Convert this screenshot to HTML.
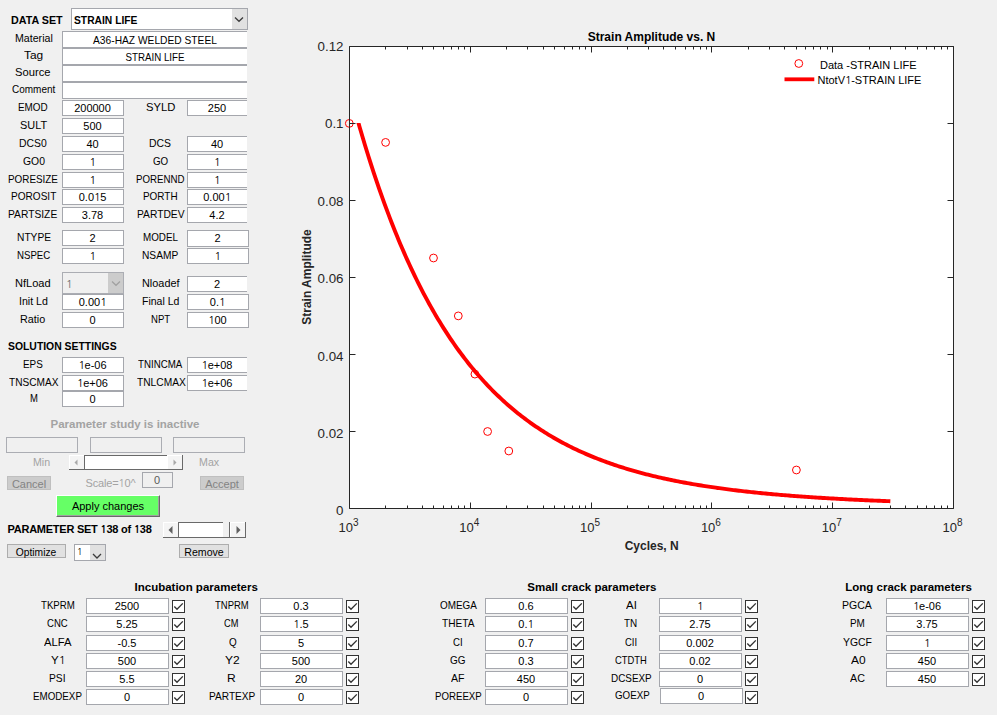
<!DOCTYPE html><html><head><meta charset="utf-8"><style>
html,body{margin:0;padding:0}
body{width:997px;height:715px;background:#f0f0f0;position:relative;overflow:hidden;font-family:"Liberation Sans",Arial,sans-serif}
.t{position:absolute;line-height:20px;height:20px;white-space:nowrap;font-family:"Liberation Sans",Arial,sans-serif}
.b{position:absolute;box-sizing:border-box;border:1px solid #a5a7ad;background:#fff}
.cb{position:absolute;width:13px;height:13px;box-sizing:border-box;border:1px solid #333;background:#fff}
.cb svg{position:absolute;left:-1px;top:-1px}
.btn{position:absolute;box-sizing:border-box}
.one{font-family:"NanumGothic","Liberation Sans",sans-serif;letter-spacing:-0.55px;line-height:0}
</style></head><body>
<div class="t" style="left:10.5px;top:10px;width:400px;text-align:left;font-size:11px;font-weight:bold;color:#000;transform:scaleX(0.975);transform-origin:0 0;">DATA SET</div>
<div class="b" style="left:71px;top:8px;width:177px;height:22px;background:#fff"></div>
<div style="position:absolute;left:232px;top:9px;width:15px;height:20px;background:#e1e1e1"></div>
<svg style="position:absolute;left:234px;top:16px" width="10" height="7"><path d="M1 1.5 L5 5.3 L9 1.5" fill="none" stroke="#3c3c3c" stroke-width="1.3"/></svg>
<div class="t" style="left:74.0px;top:10px;width:400px;text-align:left;font-size:11px;font-weight:bold;color:#000;transform:scaleX(0.935);transform-origin:0 0;">STRAIN LIFE</div>
<div class="t" style="left:14.5px;top:28px;width:400px;text-align:left;font-size:11px;color:#000;transform:scaleX(0.9658);transform-origin:0 0;">Material</div>
<div class="b" style="left:62px;top:31px;width:185px;height:17px;background:#fff;border-color:#a5a7ad;border-right:none;"></div>
<div class="t" style="left:-45.5px;top:30px;width:400px;text-align:center;font-size:11px;color:#000;transform:scaleX(0.93);transform-origin:50% 0;">A36-HAZ WELDED STEEL</div>
<div class="t" style="left:24.1px;top:45px;width:400px;text-align:left;font-size:11px;color:#000;transform:scaleX(1.0824);transform-origin:0 0;">Tag</div>
<div class="b" style="left:62px;top:48px;width:185px;height:17px;background:#fff;border-color:#a5a7ad;border-right:none;"></div>
<div class="t" style="left:-45.5px;top:47px;width:400px;text-align:center;font-size:11px;color:#000;transform:scaleX(0.885);transform-origin:50% 0;">STRAIN LIFE</div>
<div class="t" style="left:15.3px;top:62px;width:400px;text-align:left;font-size:11px;color:#000;transform:scaleX(1.0176);transform-origin:0 0;">Source</div>
<div class="b" style="left:62px;top:65px;width:185px;height:17px;background:#fff;border-color:#a5a7ad;border-right:none;"></div>
<div class="t" style="left:11.5px;top:79px;width:400px;text-align:left;font-size:11px;color:#000;transform:scaleX(0.9083);transform-origin:0 0;">Comment</div>
<div class="b" style="left:62px;top:82px;width:185px;height:17px;background:#fff;border-color:#a5a7ad;border-right:none;"></div>
<div class="t" style="left:18.3px;top:97px;width:400px;text-align:left;font-size:11px;color:#000;transform:scaleX(0.9);transform-origin:0 0;">EMOD</div>
<div class="b" style="left:62px;top:100px;width:62px;height:16px;background:#fff;border-color:#a5a7ad;"></div>
<div class="t" style="left:-107.5px;top:98px;width:400px;text-align:center;font-size:11px;color:#000;">200000</div>
<div class="t" style="left:146.2px;top:97px;width:400px;text-align:left;font-size:11px;color:#000;transform:scaleX(1.0222);transform-origin:0 0;">SYLD</div>
<div class="b" style="left:187px;top:100px;width:60px;height:16px;background:#fff;border-color:#a5a7ad;border-right:none;"></div>
<div class="t" style="left:17.0px;top:98px;width:400px;text-align:center;font-size:11px;color:#000;">250</div>
<div class="t" style="left:20.3px;top:115px;width:400px;text-align:left;font-size:11px;color:#000;transform:scaleX(0.9923);transform-origin:0 0;">SULT</div>
<div class="b" style="left:62px;top:118px;width:62px;height:16px;background:#fff;border-color:#a5a7ad;"></div>
<div class="t" style="left:-107.5px;top:116px;width:400px;text-align:center;font-size:11px;color:#000;">500</div>
<div class="t" style="left:19.2px;top:133px;width:400px;text-align:left;font-size:11px;color:#000;transform:scaleX(0.9429);transform-origin:0 0;">DCS0</div>
<div class="b" style="left:62px;top:136px;width:62px;height:16px;background:#fff;border-color:#a5a7ad;"></div>
<div class="t" style="left:-107.5px;top:134px;width:400px;text-align:center;font-size:11px;color:#000;">40</div>
<div class="t" style="left:149.2px;top:133px;width:400px;text-align:left;font-size:11px;color:#000;transform:scaleX(0.9455);transform-origin:0 0;">DCS</div>
<div class="b" style="left:187px;top:136px;width:60px;height:16px;background:#fff;border-color:#a5a7ad;border-right:none;"></div>
<div class="t" style="left:17.0px;top:134px;width:400px;text-align:center;font-size:11px;color:#000;">40</div>
<div class="t" style="left:23.1px;top:151px;width:400px;text-align:left;font-size:11px;color:#000;transform:scaleX(0.9435);transform-origin:0 0;">GO0</div>
<div class="b" style="left:62px;top:154px;width:62px;height:16px;background:#fff;border-color:#a5a7ad;"></div>
<div class="t" style="left:-107.5px;top:152px;width:400px;text-align:center;font-size:11px;color:#000;"><span class="one">1</span></div>
<div class="t" style="left:153.1px;top:151px;width:400px;text-align:left;font-size:11px;color:#000;transform:scaleX(0.8882);transform-origin:0 0;">GO</div>
<div class="b" style="left:187px;top:154px;width:60px;height:16px;background:#fff;border-color:#a5a7ad;border-right:none;"></div>
<div class="t" style="left:17.0px;top:152px;width:400px;text-align:center;font-size:11px;color:#000;"><span class="one">1</span></div>
<div class="t" style="left:8.3px;top:169px;width:400px;text-align:left;font-size:11px;color:#000;transform:scaleX(0.8981);transform-origin:0 0;">PORESIZE</div>
<div class="b" style="left:62px;top:172px;width:62px;height:16px;background:#fff;border-color:#a5a7ad;"></div>
<div class="t" style="left:-107.5px;top:170px;width:400px;text-align:center;font-size:11px;color:#000;"><span class="one">1</span></div>
<div class="t" style="left:136.2px;top:169px;width:400px;text-align:left;font-size:11px;color:#000;transform:scaleX(0.8815);transform-origin:0 0;">PORENND</div>
<div class="b" style="left:187px;top:172px;width:60px;height:16px;background:#fff;border-color:#a5a7ad;border-right:none;"></div>
<div class="t" style="left:17.0px;top:170px;width:400px;text-align:center;font-size:11px;color:#000;"><span class="one">1</span></div>
<div class="t" style="left:11.2px;top:186px;width:400px;text-align:left;font-size:11px;color:#000;transform:scaleX(0.9146);transform-origin:0 0;">POROSIT</div>
<div class="b" style="left:62px;top:189px;width:62px;height:16px;background:#fff;border-color:#a5a7ad;"></div>
<div class="t" style="left:-107.5px;top:187px;width:400px;text-align:center;font-size:11px;color:#000;">0.0<span class="one">1</span>5</div>
<div class="t" style="left:143.3px;top:186px;width:400px;text-align:left;font-size:11px;color:#000;transform:scaleX(0.9027);transform-origin:0 0;">PORTH</div>
<div class="b" style="left:187px;top:189px;width:60px;height:16px;background:#fff;border-color:#a5a7ad;border-right:none;"></div>
<div class="t" style="left:17.0px;top:187px;width:400px;text-align:center;font-size:11px;color:#000;">0.00<span class="one">1</span></div>
<div class="t" style="left:8.3px;top:204px;width:400px;text-align:left;font-size:11px;color:#000;transform:scaleX(0.9327);transform-origin:0 0;">PARTSIZE</div>
<div class="b" style="left:62px;top:207px;width:62px;height:16px;background:#fff;border-color:#a5a7ad;"></div>
<div class="t" style="left:-107.5px;top:205px;width:400px;text-align:center;font-size:11px;color:#000;">3.78</div>
<div class="t" style="left:136.6px;top:204px;width:400px;text-align:left;font-size:11px;color:#000;transform:scaleX(0.934);transform-origin:0 0;">PARTDEV</div>
<div class="b" style="left:187px;top:207px;width:60px;height:16px;background:#fff;border-color:#a5a7ad;border-right:none;"></div>
<div class="t" style="left:17.0px;top:205px;width:400px;text-align:center;font-size:11px;color:#000;">4.2</div>
<div class="t" style="left:16.5px;top:227px;width:400px;text-align:left;font-size:11px;color:#000;transform:scaleX(0.9286);transform-origin:0 0;">NTYPE</div>
<div class="b" style="left:62px;top:230px;width:62px;height:16px;background:#fff;border-color:#a5a7ad;"></div>
<div class="t" style="left:-107.5px;top:228px;width:400px;text-align:center;font-size:11px;color:#000;">2</div>
<div class="t" style="left:142.7px;top:227px;width:400px;text-align:left;font-size:11px;color:#000;transform:scaleX(0.8921);transform-origin:0 0;">MODEL</div>
<div class="b" style="left:187px;top:230px;width:62px;height:17px;background:#fff;border-color:#a5a7ad;"></div>
<div class="t" style="left:17.5px;top:228px;width:400px;text-align:center;font-size:11px;color:#000;">2</div>
<div class="t" style="left:16.5px;top:245px;width:400px;text-align:left;font-size:11px;color:#000;transform:scaleX(0.8784);transform-origin:0 0;">NSPEC</div>
<div class="b" style="left:62px;top:248px;width:62px;height:16px;background:#fff;border-color:#a5a7ad;"></div>
<div class="t" style="left:-107.5px;top:246px;width:400px;text-align:center;font-size:11px;color:#000;"><span class="one">1</span></div>
<div class="t" style="left:141.7px;top:245px;width:400px;text-align:left;font-size:11px;color:#000;transform:scaleX(0.9263);transform-origin:0 0;">NSAMP</div>
<div class="b" style="left:187px;top:248px;width:62px;height:16px;background:#fff;border-color:#a5a7ad;"></div>
<div class="t" style="left:17.5px;top:246px;width:400px;text-align:center;font-size:11px;color:#000;"><span class="one">1</span></div>
<div class="t" style="left:19.4px;top:291px;width:400px;text-align:left;font-size:11px;color:#000;transform:scaleX(0.9643);transform-origin:0 0;">Init Ld</div>
<div class="b" style="left:62px;top:294px;width:62px;height:16px;background:#fff;border-color:#a5a7ad;"></div>
<div class="t" style="left:-107.5px;top:292px;width:400px;text-align:center;font-size:11px;color:#000;">0.00<span class="one">1</span></div>
<div class="t" style="left:141.6px;top:291px;width:400px;text-align:left;font-size:11px;color:#000;transform:scaleX(0.9553);transform-origin:0 0;">Final Ld</div>
<div class="b" style="left:187px;top:294px;width:62px;height:16px;background:#fff;border-color:#a5a7ad;"></div>
<div class="t" style="left:17.5px;top:292px;width:400px;text-align:center;font-size:11px;color:#000;">0.<span class="one">1</span></div>
<div class="t" style="left:20.4px;top:309px;width:400px;text-align:left;font-size:11px;color:#000;transform:scaleX(0.9792);transform-origin:0 0;">Ratio</div>
<div class="b" style="left:62px;top:312px;width:62px;height:16px;background:#fff;border-color:#a5a7ad;"></div>
<div class="t" style="left:-107.5px;top:310px;width:400px;text-align:center;font-size:11px;color:#000;">0</div>
<div class="t" style="left:150.5px;top:309px;width:400px;text-align:left;font-size:11px;color:#000;transform:scaleX(0.8714);transform-origin:0 0;">NPT</div>
<div class="b" style="left:187px;top:312px;width:62px;height:16px;background:#fff;border-color:#a5a7ad;"></div>
<div class="t" style="left:17.5px;top:310px;width:400px;text-align:center;font-size:11px;color:#000;"><span class="one">1</span>00</div>
<div class="t" style="left:15.4px;top:273px;width:400px;text-align:left;font-size:11px;color:#000;transform:scaleX(1.0059);transform-origin:0 0;">NfLoad</div>
<div class="b" style="left:62px;top:272px;width:62px;height:22px;background:#f0f0f0;border-color:#abadb3"></div>
<div style="position:absolute;left:108px;top:273px;width:15px;height:20px;background:#cccccc"></div>
<svg style="position:absolute;left:111px;top:280px" width="10" height="7"><path d="M1 1.5 L5 5.3 L9 1.5" fill="none" stroke="#a0a0a0" stroke-width="1.2"/></svg>
<div class="t" style="left:66.0px;top:274px;width:400px;text-align:left;font-size:11px;color:#6d6d6d;"><span class="one">1</span></div>
<div class="t" style="left:141.6px;top:273px;width:400px;text-align:left;font-size:11px;color:#000;transform:scaleX(0.9892);transform-origin:0 0;">Nloadef</div>
<div class="b" style="left:187px;top:276px;width:60px;height:16px;background:#fff;border-color:#a5a7ad;border-right:none;"></div>
<div class="t" style="left:17.0px;top:274px;width:400px;text-align:center;font-size:11px;color:#000;">2</div>
<div class="t" style="left:8.0px;top:336px;width:400px;text-align:left;font-size:11px;font-weight:bold;color:#000;transform:scaleX(0.945);transform-origin:0 0;">SOLUTION SETTINGS</div>
<div class="t" style="left:23.2px;top:354px;width:400px;text-align:left;font-size:11px;color:#000;transform:scaleX(0.9);transform-origin:0 0;">EPS</div>
<div class="b" style="left:62px;top:357px;width:62px;height:16px;background:#fff;border-color:#a5a7ad;"></div>
<div class="t" style="left:-107.5px;top:355px;width:400px;text-align:center;font-size:11px;color:#000;"><span class="one">1</span>e-06</div>
<div class="t" style="left:138.3px;top:354px;width:400px;text-align:left;font-size:11px;color:#000;transform:scaleX(0.884);transform-origin:0 0;">TNINCMA</div>
<div class="b" style="left:187px;top:357px;width:60px;height:16px;background:#fff;border-color:#a5a7ad;border-right:none;"></div>
<div class="t" style="left:17.0px;top:355px;width:400px;text-align:center;font-size:11px;color:#000;"><span class="one">1</span>e+08</div>
<div class="t" style="left:9.2px;top:372px;width:400px;text-align:left;font-size:11px;color:#000;transform:scaleX(0.9185);transform-origin:0 0;">TNSCMAX</div>
<div class="b" style="left:62px;top:375px;width:62px;height:16px;background:#fff;border-color:#a5a7ad;"></div>
<div class="t" style="left:-107.5px;top:373px;width:400px;text-align:center;font-size:11px;color:#000;"><span class="one">1</span>e+06</div>
<div class="t" style="left:136.6px;top:372px;width:400px;text-align:left;font-size:11px;color:#000;transform:scaleX(0.9288);transform-origin:0 0;">TNLCMAX</div>
<div class="b" style="left:187px;top:375px;width:60px;height:16px;background:#fff;border-color:#a5a7ad;border-right:none;"></div>
<div class="t" style="left:17.0px;top:373px;width:400px;text-align:center;font-size:11px;color:#000;"><span class="one">1</span>e+06</div>
<div class="t" style="left:29.5px;top:388px;width:400px;text-align:left;font-size:11px;color:#000;transform:scaleX(0.8625);transform-origin:0 0;">M</div>
<div class="b" style="left:62px;top:391px;width:62px;height:16px;background:#fff;border-color:#a5a7ad;"></div>
<div class="t" style="left:-107.5px;top:389px;width:400px;text-align:center;font-size:11px;color:#000;">0</div>
<div class="t" style="left:-75.0px;top:414px;width:400px;text-align:center;font-size:11.5px;font-weight:bold;color:#a3a3a3;">Parameter study is inactive</div>
<div class="b" style="left:6px;top:437px;width:72px;height:16px;background:#f0f0f0;border-color:#abadb3;"></div>
<div class="b" style="left:90px;top:437px;width:72px;height:16px;background:#f0f0f0;border-color:#abadb3;"></div>
<div class="b" style="left:173px;top:437px;width:72px;height:16px;background:#f0f0f0;border-color:#abadb3;"></div>
<div class="t" style="left:33.1px;top:452px;width:400px;text-align:left;font-size:11px;color:#a3a3a3;transform:scaleX(0.9625);transform-origin:0 0;">Min</div>
<div class="t" style="left:198.6px;top:452px;width:400px;text-align:left;font-size:11px;color:#a3a3a3;transform:scaleX(0.97);transform-origin:0 0;">Max</div>
<div style="position:absolute;left:69px;top:455px;width:114px;height:15px;background:#f0f0f0"></div>
<div style="position:absolute;left:69px;top:455px;width:15px;height:14px;background:#f4f4f4;border-top:1px solid #fff;border-left:1px solid #fff;box-sizing:border-box"></div>
<div style="position:absolute;left:167px;top:455px;width:15px;height:14px;background:#f4f4f4;border-top:1px solid #fff;border-left:1px solid #fff;box-sizing:border-box"></div>
<svg style="position:absolute;left:69px;top:455px" width="15" height="15"><path d="M5.5 7.5 L8.5 4.5 L8.5 10.5 Z" fill="#a8a8a8"/></svg>
<svg style="position:absolute;left:167px;top:455px" width="15" height="15"><path d="M9.5 7.5 L6.5 4.5 L6.5 10.5 Z" fill="#a8a8a8"/></svg>
<div style="position:absolute;left:84px;top:455px;width:83px;height:14px;background:#fff;border-top:1px solid #696969;border-left:1px solid #696969;box-sizing:border-box"></div>
<div style="position:absolute;left:69px;top:469px;width:114px;height:1px;background:#696969"></div>
<div style="position:absolute;left:182px;top:455px;width:1px;height:15px;background:#696969"></div>
<div class="btn" style="left:7px;top:476px;width:44px;height:14px;background:#cccccc;border:1px solid #bfbfbf;overflow:hidden"><div class="t" style="left:0;top:-3px;width:100%;text-align:center;font-size:11px;color:#838383;letter-spacing:0px">Cancel</div></div>
<div class="btn" style="left:200px;top:476px;width:44px;height:14px;background:#cccccc;border:1px solid #bfbfbf;overflow:hidden"><div class="t" style="left:0;top:-3px;width:100%;text-align:center;font-size:11px;color:#838383;letter-spacing:0px">Accept</div></div>
<div class="t" style="left:-89.5px;top:473px;width:400px;text-align:center;font-size:11px;color:#a3a3a3;letter-spacing:-0.2px;">Scale=<span class="one">1</span>0^</div>
<div class="b" style="left:142px;top:472px;width:31px;height:16px;background:#f0f0f0;border-color:#a5a7ad;"></div>
<div class="t" style="left:-43.0px;top:470px;width:400px;text-align:center;font-size:11px;color:#5a5a5a;">0</div>
<div class="btn" style="left:56px;top:495px;width:104px;height:22px;background:#66ff66;border-top:1px solid #fff;border-left:1px solid #fff;border-right:1px solid #696969;border-bottom:1px solid #696969;box-shadow:inset -1px -1px 0 #a0a0a0"></div>
<div class="t" style="left:-92.0px;top:496px;width:400px;text-align:center;font-size:11px;color:#000;">Apply changes</div>
<div class="t" style="left:7.5px;top:519px;width:400px;text-align:left;font-size:11px;font-weight:bold;color:#000;letter-spacing:-0.25px;">PARAMETER SET <span class="one">1</span>38 of <span class="one">1</span>38</div>
<div style="position:absolute;left:163px;top:522px;width:83px;height:16px;background:#f0f0f0"></div>
<div style="position:absolute;left:163px;top:522px;width:15px;height:15px;background:#f4f4f4;border-top:1px solid #fff;border-left:1px solid #fff;box-sizing:border-box"></div>
<div style="position:absolute;left:230px;top:522px;width:15px;height:15px;background:#f4f4f4;border-top:1px solid #fff;border-left:1px solid #fff;box-sizing:border-box"></div>
<svg style="position:absolute;left:163px;top:522px" width="15" height="16"><path d="M5.5 8.0 L9.5 4.0 L9.5 12.0 Z" fill="#606060"/></svg>
<svg style="position:absolute;left:230px;top:522px" width="15" height="16"><path d="M10.5 8.0 L6.5 4.0 L6.5 12.0 Z" fill="#606060"/></svg>
<div style="position:absolute;left:178px;top:522px;width:45px;height:15px;background:#fff;border-top:1px solid #696969;border-left:1px solid #696969;box-sizing:border-box"></div>
<div style="position:absolute;left:223px;top:522px;width:7px;height:15px;background:#f0f0f0;border-right:1px solid #696969;box-sizing:border-box"></div>
<div style="position:absolute;left:163px;top:537px;width:83px;height:1px;background:#696969"></div>
<div style="position:absolute;left:245px;top:522px;width:1px;height:16px;background:#696969"></div>
<div class="btn" style="left:7px;top:544px;width:59px;height:14px;background:#e1e1e1;border:1px solid #adadad"></div>
<div class="t" style="left:-163.7px;top:542px;width:400px;text-align:center;font-size:11px;color:#000;transform:scaleX(0.935);transform-origin:50% 0;">Optimize</div>
<div class="btn" style="left:179px;top:544px;width:50px;height:14px;background:#e1e1e1;border:1px solid #adadad"></div>
<div class="t" style="left:4.4px;top:542px;width:400px;text-align:center;font-size:11px;color:#000;transform:scaleX(0.965);transform-origin:50% 0;">Remove</div>
<div class="b" style="left:74px;top:544px;width:32px;height:17px;background:#fff;border-color:#a5a7ad"></div>
<div style="position:absolute;left:90px;top:545px;width:15px;height:15px;background:#e1e1e1"></div>
<svg style="position:absolute;left:92px;top:552px" width="12" height="8"><path d="M1 2 L5 6 L9 2" fill="none" stroke="#3c3c3c" stroke-width="1.3"/></svg>
<div class="t" style="left:77.0px;top:542px;width:400px;text-align:left;font-size:9px;color:#000;"><span class="one">1</span></div>
<div class="t" style="left:-3.8px;top:577px;width:400px;text-align:center;font-size:11.5px;font-weight:bold;color:#000;">Incubation parameters</div>
<div class="t" style="left:391.9px;top:577px;width:400px;text-align:center;font-size:11.5px;font-weight:bold;color:#000;">Small crack parameters</div>
<div class="t" style="left:708.5px;top:577px;width:400px;text-align:center;font-size:11.5px;font-weight:bold;color:#000;">Long crack parameters</div>
<div class="t" style="left:41.1px;top:595px;width:400px;text-align:left;font-size:11px;color:#000;transform:scaleX(0.8789);transform-origin:0 0;">TKPRM</div>
<div class="b" style="left:86px;top:598px;width:83px;height:16px;background:#fff;border-color:#a5a7ad;"></div>
<div class="t" style="left:-73.0px;top:596px;width:400px;text-align:center;font-size:11px;color:#000;">2500</div>
<div class="cb" style="left:172px;top:600px"><svg width="13" height="13" viewBox="0 0 13 13"><path d="M2.3 6.6 L5 9.3 L10.8 3.4" fill="none" stroke="#333" stroke-width="1.35"/></svg></div>
<div class="t" style="left:47.2px;top:613px;width:400px;text-align:left;font-size:11px;color:#000;transform:scaleX(0.8667);transform-origin:0 0;">CNC</div>
<div class="b" style="left:86px;top:616px;width:83px;height:16px;background:#fff;border-color:#a5a7ad;"></div>
<div class="t" style="left:-73.0px;top:614px;width:400px;text-align:center;font-size:11px;color:#000;">5.25</div>
<div class="cb" style="left:172px;top:618px"><svg width="13" height="13" viewBox="0 0 13 13"><path d="M2.3 6.6 L5 9.3 L10.8 3.4" fill="none" stroke="#333" stroke-width="1.35"/></svg></div>
<div class="t" style="left:44.2px;top:632px;width:400px;text-align:left;font-size:11px;color:#000;transform:scaleX(1.0222);transform-origin:0 0;">ALFA</div>
<div class="b" style="left:86px;top:635px;width:83px;height:16px;background:#fff;border-color:#a5a7ad;"></div>
<div class="t" style="left:-73.0px;top:633px;width:400px;text-align:center;font-size:11px;color:#000;">-0.5</div>
<div class="cb" style="left:172px;top:637px"><svg width="13" height="13" viewBox="0 0 13 13"><path d="M2.3 6.6 L5 9.3 L10.8 3.4" fill="none" stroke="#333" stroke-width="1.35"/></svg></div>
<div class="t" style="left:51.1px;top:650px;width:400px;text-align:left;font-size:11px;color:#000;transform:scaleX(1.05);transform-origin:0 0;">Y<span class="one">1</span></div>
<div class="b" style="left:86px;top:653px;width:83px;height:16px;background:#fff;border-color:#a5a7ad;"></div>
<div class="t" style="left:-73.0px;top:651px;width:400px;text-align:center;font-size:11px;color:#000;">500</div>
<div class="cb" style="left:172px;top:655px"><svg width="13" height="13" viewBox="0 0 13 13"><path d="M2.3 6.6 L5 9.3 L10.8 3.4" fill="none" stroke="#333" stroke-width="1.35"/></svg></div>
<div class="t" style="left:49.4px;top:668px;width:400px;text-align:left;font-size:11px;color:#000;transform:scaleX(0.9313);transform-origin:0 0;">PSI</div>
<div class="b" style="left:86px;top:671px;width:83px;height:16px;background:#fff;border-color:#a5a7ad;"></div>
<div class="t" style="left:-73.0px;top:669px;width:400px;text-align:center;font-size:11px;color:#000;">5.5</div>
<div class="cb" style="left:172px;top:673px"><svg width="13" height="13" viewBox="0 0 13 13"><path d="M2.3 6.6 L5 9.3 L10.8 3.4" fill="none" stroke="#333" stroke-width="1.35"/></svg></div>
<div class="t" style="left:33.3px;top:686px;width:400px;text-align:left;font-size:11px;color:#000;transform:scaleX(0.8889);transform-origin:0 0;">EMODEXP</div>
<div class="b" style="left:86px;top:689px;width:83px;height:16px;background:#fff;border-color:#a5a7ad;"></div>
<div class="t" style="left:-73.0px;top:687px;width:400px;text-align:center;font-size:11px;color:#000;">0</div>
<div class="cb" style="left:172px;top:691px"><svg width="13" height="13" viewBox="0 0 13 13"><path d="M2.3 6.6 L5 9.3 L10.8 3.4" fill="none" stroke="#333" stroke-width="1.35"/></svg></div>
<div class="t" style="left:214.9px;top:595px;width:400px;text-align:left;font-size:11px;color:#000;transform:scaleX(0.8615);transform-origin:0 0;">TNPRM</div>
<div class="b" style="left:260px;top:598px;width:83px;height:16px;background:#fff;border-color:#a5a7ad;"></div>
<div class="t" style="left:101.0px;top:596px;width:400px;text-align:center;font-size:11px;color:#000;">0.3</div>
<div class="cb" style="left:346px;top:600px"><svg width="13" height="13" viewBox="0 0 13 13"><path d="M2.3 6.6 L5 9.3 L10.8 3.4" fill="none" stroke="#333" stroke-width="1.35"/></svg></div>
<div class="t" style="left:224.2px;top:613px;width:400px;text-align:left;font-size:11px;color:#000;transform:scaleX(0.8412);transform-origin:0 0;">CM</div>
<div class="b" style="left:260px;top:616px;width:83px;height:16px;background:#fff;border-color:#a5a7ad;"></div>
<div class="t" style="left:101.0px;top:614px;width:400px;text-align:center;font-size:11px;color:#000;"><span class="one">1</span>.5</div>
<div class="cb" style="left:346px;top:618px"><svg width="13" height="13" viewBox="0 0 13 13"><path d="M2.3 6.6 L5 9.3 L10.8 3.4" fill="none" stroke="#333" stroke-width="1.35"/></svg></div>
<div class="t" style="left:228.5px;top:632px;width:400px;text-align:left;font-size:11px;color:#000;transform:scaleX(0.9);transform-origin:0 0;">Q</div>
<div class="b" style="left:260px;top:635px;width:83px;height:16px;background:#fff;border-color:#a5a7ad;"></div>
<div class="t" style="left:101.0px;top:633px;width:400px;text-align:center;font-size:11px;color:#000;">5</div>
<div class="cb" style="left:346px;top:637px"><svg width="13" height="13" viewBox="0 0 13 13"><path d="M2.3 6.6 L5 9.3 L10.8 3.4" fill="none" stroke="#333" stroke-width="1.35"/></svg></div>
<div class="t" style="left:224.6px;top:650px;width:400px;text-align:left;font-size:11px;color:#000;transform:scaleX(1.0923);transform-origin:0 0;">Y2</div>
<div class="b" style="left:260px;top:653px;width:83px;height:16px;background:#fff;border-color:#a5a7ad;"></div>
<div class="t" style="left:101.0px;top:651px;width:400px;text-align:center;font-size:11px;color:#000;">500</div>
<div class="cb" style="left:346px;top:655px"><svg width="13" height="13" viewBox="0 0 13 13"><path d="M2.3 6.6 L5 9.3 L10.8 3.4" fill="none" stroke="#333" stroke-width="1.35"/></svg></div>
<div class="t" style="left:227.4px;top:668px;width:400px;text-align:left;font-size:11px;color:#000;transform:scaleX(1.1);transform-origin:0 0;">R</div>
<div class="b" style="left:260px;top:671px;width:83px;height:16px;background:#fff;border-color:#a5a7ad;"></div>
<div class="t" style="left:101.0px;top:669px;width:400px;text-align:center;font-size:11px;color:#000;">20</div>
<div class="cb" style="left:346px;top:673px"><svg width="13" height="13" viewBox="0 0 13 13"><path d="M2.3 6.6 L5 9.3 L10.8 3.4" fill="none" stroke="#333" stroke-width="1.35"/></svg></div>
<div class="t" style="left:208.6px;top:686px;width:400px;text-align:left;font-size:11px;color:#000;transform:scaleX(0.9204);transform-origin:0 0;">PARTEXP</div>
<div class="b" style="left:260px;top:689px;width:83px;height:16px;background:#fff;border-color:#a5a7ad;"></div>
<div class="t" style="left:101.0px;top:687px;width:400px;text-align:center;font-size:11px;color:#000;">0</div>
<div class="cb" style="left:346px;top:691px"><svg width="13" height="13" viewBox="0 0 13 13"><path d="M2.3 6.6 L5 9.3 L10.8 3.4" fill="none" stroke="#333" stroke-width="1.35"/></svg></div>
<div class="t" style="left:439.5px;top:595px;width:400px;text-align:left;font-size:11px;color:#000;transform:scaleX(0.9024);transform-origin:0 0;">OMEGA</div>
<div class="b" style="left:485px;top:598px;width:83px;height:16px;background:#fff;border-color:#a5a7ad;"></div>
<div class="t" style="left:326.0px;top:596px;width:400px;text-align:center;font-size:11px;color:#000;">0.6</div>
<div class="cb" style="left:571px;top:600px"><svg width="13" height="13" viewBox="0 0 13 13"><path d="M2.3 6.6 L5 9.3 L10.8 3.4" fill="none" stroke="#333" stroke-width="1.35"/></svg></div>
<div class="t" style="left:441.5px;top:613px;width:400px;text-align:left;font-size:11px;color:#000;transform:scaleX(0.9229);transform-origin:0 0;">THETA</div>
<div class="b" style="left:485px;top:616px;width:83px;height:16px;background:#fff;border-color:#a5a7ad;"></div>
<div class="t" style="left:326.0px;top:614px;width:400px;text-align:center;font-size:11px;color:#000;">0.<span class="one">1</span></div>
<div class="cb" style="left:571px;top:618px"><svg width="13" height="13" viewBox="0 0 13 13"><path d="M2.3 6.6 L5 9.3 L10.8 3.4" fill="none" stroke="#333" stroke-width="1.35"/></svg></div>
<div class="t" style="left:453.4px;top:632px;width:400px;text-align:left;font-size:11px;color:#000;transform:scaleX(0.88);transform-origin:0 0;">CI</div>
<div class="b" style="left:485px;top:635px;width:83px;height:16px;background:#fff;border-color:#a5a7ad;"></div>
<div class="t" style="left:326.0px;top:633px;width:400px;text-align:center;font-size:11px;color:#000;">0.7</div>
<div class="cb" style="left:571px;top:637px"><svg width="13" height="13" viewBox="0 0 13 13"><path d="M2.3 6.6 L5 9.3 L10.8 3.4" fill="none" stroke="#333" stroke-width="1.35"/></svg></div>
<div class="t" style="left:450.3px;top:650px;width:400px;text-align:left;font-size:11px;color:#000;transform:scaleX(0.9059);transform-origin:0 0;">GG</div>
<div class="b" style="left:485px;top:653px;width:83px;height:16px;background:#fff;border-color:#a5a7ad;"></div>
<div class="t" style="left:326.0px;top:651px;width:400px;text-align:center;font-size:11px;color:#000;">0.3</div>
<div class="cb" style="left:571px;top:655px"><svg width="13" height="13" viewBox="0 0 13 13"><path d="M2.3 6.6 L5 9.3 L10.8 3.4" fill="none" stroke="#333" stroke-width="1.35"/></svg></div>
<div class="t" style="left:451.4px;top:668px;width:400px;text-align:left;font-size:11px;color:#000;transform:scaleX(0.9643);transform-origin:0 0;">AF</div>
<div class="b" style="left:485px;top:671px;width:83px;height:16px;background:#fff;border-color:#a5a7ad;"></div>
<div class="t" style="left:326.0px;top:669px;width:400px;text-align:center;font-size:11px;color:#000;">450</div>
<div class="cb" style="left:571px;top:673px"><svg width="13" height="13" viewBox="0 0 13 13"><path d="M2.3 6.6 L5 9.3 L10.8 3.4" fill="none" stroke="#333" stroke-width="1.35"/></svg></div>
<div class="t" style="left:434.5px;top:686px;width:400px;text-align:left;font-size:11px;color:#000;transform:scaleX(0.8788);transform-origin:0 0;">POREEXP</div>
<div class="b" style="left:485px;top:689px;width:83px;height:16px;background:#fff;border-color:#a5a7ad;"></div>
<div class="t" style="left:326.0px;top:687px;width:400px;text-align:center;font-size:11px;color:#000;">0</div>
<div class="cb" style="left:571px;top:691px"><svg width="13" height="13" viewBox="0 0 13 13"><path d="M2.3 6.6 L5 9.3 L10.8 3.4" fill="none" stroke="#333" stroke-width="1.35"/></svg></div>
<div class="t" style="left:626.2px;top:595px;width:400px;text-align:left;font-size:11px;color:#000;transform:scaleX(1.04);transform-origin:0 0;">AI</div>
<div class="b" style="left:659px;top:598px;width:83px;height:16px;background:#fff;border-color:#a5a7ad;"></div>
<div class="t" style="left:500.0px;top:596px;width:400px;text-align:center;font-size:11px;color:#000;"><span class="one">1</span></div>
<div class="cb" style="left:745px;top:600px"><svg width="13" height="13" viewBox="0 0 13 13"><path d="M2.3 6.6 L5 9.3 L10.8 3.4" fill="none" stroke="#333" stroke-width="1.35"/></svg></div>
<div class="t" style="left:624.3px;top:613px;width:400px;text-align:left;font-size:11px;color:#000;transform:scaleX(0.9);transform-origin:0 0;">TN</div>
<div class="b" style="left:659px;top:616px;width:83px;height:16px;background:#fff;border-color:#a5a7ad;"></div>
<div class="t" style="left:500.0px;top:614px;width:400px;text-align:center;font-size:11px;color:#000;">2.75</div>
<div class="cb" style="left:745px;top:618px"><svg width="13" height="13" viewBox="0 0 13 13"><path d="M2.3 6.6 L5 9.3 L10.8 3.4" fill="none" stroke="#333" stroke-width="1.35"/></svg></div>
<div class="t" style="left:625.4px;top:632px;width:400px;text-align:left;font-size:11px;color:#000;transform:scaleX(0.8615);transform-origin:0 0;">CII</div>
<div class="b" style="left:659px;top:635px;width:83px;height:16px;background:#fff;border-color:#a5a7ad;"></div>
<div class="t" style="left:500.0px;top:633px;width:400px;text-align:center;font-size:11px;color:#000;">0.002</div>
<div class="cb" style="left:745px;top:637px"><svg width="13" height="13" viewBox="0 0 13 13"><path d="M2.3 6.6 L5 9.3 L10.8 3.4" fill="none" stroke="#333" stroke-width="1.35"/></svg></div>
<div class="t" style="left:614.6px;top:650px;width:400px;text-align:left;font-size:11px;color:#000;transform:scaleX(0.8541);transform-origin:0 0;">CTDTH</div>
<div class="b" style="left:659px;top:653px;width:83px;height:16px;background:#fff;border-color:#a5a7ad;"></div>
<div class="t" style="left:500.0px;top:651px;width:400px;text-align:center;font-size:11px;color:#000;">0.02</div>
<div class="cb" style="left:745px;top:655px"><svg width="13" height="13" viewBox="0 0 13 13"><path d="M2.3 6.6 L5 9.3 L10.8 3.4" fill="none" stroke="#333" stroke-width="1.35"/></svg></div>
<div class="t" style="left:610.6px;top:668px;width:400px;text-align:left;font-size:11px;color:#000;transform:scaleX(0.9);transform-origin:0 0;">DCSEXP</div>
<div class="b" style="left:659px;top:671px;width:83px;height:16px;background:#fff;border-color:#a5a7ad;"></div>
<div class="t" style="left:500.0px;top:669px;width:400px;text-align:center;font-size:11px;color:#000;">0</div>
<div class="cb" style="left:745px;top:673px"><svg width="13" height="13" viewBox="0 0 13 13"><path d="M2.3 6.6 L5 9.3 L10.8 3.4" fill="none" stroke="#333" stroke-width="1.35"/></svg></div>
<div class="t" style="left:614.6px;top:685px;width:400px;text-align:left;font-size:11px;color:#000;transform:scaleX(0.8872);transform-origin:0 0;">GOEXP</div>
<div class="b" style="left:660px;top:688px;width:83px;height:16px;background:#fff;border-color:#a5a7ad;"></div>
<div class="t" style="left:501.0px;top:686px;width:400px;text-align:center;font-size:11px;color:#000;">0</div>
<div class="cb" style="left:745px;top:691px"><svg width="13" height="13" viewBox="0 0 13 13"><path d="M2.3 6.6 L5 9.3 L10.8 3.4" fill="none" stroke="#333" stroke-width="1.35"/></svg></div>
<div class="t" style="left:842.1px;top:595px;width:400px;text-align:left;font-size:11px;color:#000;transform:scaleX(0.9567);transform-origin:0 0;">PGCA</div>
<div class="b" style="left:886px;top:598px;width:83px;height:16px;background:#fff;border-color:#a5a7ad;"></div>
<div class="t" style="left:727.0px;top:596px;width:400px;text-align:center;font-size:11px;color:#000;"><span class="one">1</span>e-06</div>
<div class="cb" style="left:972px;top:600px"><svg width="13" height="13" viewBox="0 0 13 13"><path d="M2.3 6.6 L5 9.3 L10.8 3.4" fill="none" stroke="#333" stroke-width="1.35"/></svg></div>
<div class="t" style="left:850.2px;top:613px;width:400px;text-align:left;font-size:11px;color:#000;transform:scaleX(0.9);transform-origin:0 0;">PM</div>
<div class="b" style="left:886px;top:616px;width:83px;height:16px;background:#fff;border-color:#a5a7ad;"></div>
<div class="t" style="left:727.0px;top:614px;width:400px;text-align:center;font-size:11px;color:#000;">3.75</div>
<div class="cb" style="left:972px;top:618px"><svg width="13" height="13" viewBox="0 0 13 13"><path d="M2.3 6.6 L5 9.3 L10.8 3.4" fill="none" stroke="#333" stroke-width="1.35"/></svg></div>
<div class="t" style="left:843.4px;top:632px;width:400px;text-align:left;font-size:11px;color:#000;transform:scaleX(0.9467);transform-origin:0 0;">YGCF</div>
<div class="b" style="left:886px;top:635px;width:83px;height:16px;background:#fff;border-color:#a5a7ad;"></div>
<div class="t" style="left:727.0px;top:633px;width:400px;text-align:center;font-size:11px;color:#000;"><span class="one">1</span></div>
<div class="cb" style="left:972px;top:637px"><svg width="13" height="13" viewBox="0 0 13 13"><path d="M2.3 6.6 L5 9.3 L10.8 3.4" fill="none" stroke="#333" stroke-width="1.35"/></svg></div>
<div class="t" style="left:851.1px;top:650px;width:400px;text-align:left;font-size:11px;color:#000;transform:scaleX(1.0846);transform-origin:0 0;">A0</div>
<div class="b" style="left:886px;top:653px;width:83px;height:16px;background:#fff;border-color:#a5a7ad;"></div>
<div class="t" style="left:727.0px;top:651px;width:400px;text-align:center;font-size:11px;color:#000;">450</div>
<div class="cb" style="left:972px;top:655px"><svg width="13" height="13" viewBox="0 0 13 13"><path d="M2.3 6.6 L5 9.3 L10.8 3.4" fill="none" stroke="#333" stroke-width="1.35"/></svg></div>
<div class="t" style="left:850.3px;top:668px;width:400px;text-align:left;font-size:11px;color:#000;transform:scaleX(0.9733);transform-origin:0 0;">AC</div>
<div class="b" style="left:886px;top:671px;width:83px;height:16px;background:#fff;border-color:#a5a7ad;"></div>
<div class="t" style="left:727.0px;top:669px;width:400px;text-align:center;font-size:11px;color:#000;">450</div>
<div class="cb" style="left:972px;top:673px"><svg width="13" height="13" viewBox="0 0 13 13"><path d="M2.3 6.6 L5 9.3 L10.8 3.4" fill="none" stroke="#333" stroke-width="1.35"/></svg></div>
<svg style="position:absolute;left:0;top:0" width="997" height="715" viewBox="0 0 997 715">
<rect x="349" y="46" width="605" height="463" fill="#fff"/>
<defs><clipPath id="cc"><rect x="340" y="123.1" width="600" height="400"/></clipPath></defs>
<polyline clip-path="url(#cc)" points="357.74,120.46 359.52,126.67 361.30,132.78 363.08,138.79 364.86,144.70 366.64,150.51 368.42,156.22 370.21,161.84 371.99,167.37 373.77,172.81 375.55,178.16 377.33,183.41 379.11,188.59 380.89,193.67 382.67,198.68 384.46,203.60 386.24,208.44 388.02,213.19 389.80,217.88 391.58,222.48 393.36,227.01 395.14,231.46 396.92,235.84 398.71,240.15 400.49,244.39 402.27,248.55 404.05,252.65 405.83,256.68 407.61,260.65 409.39,264.55 411.17,268.38 412.96,272.16 414.74,275.87 416.52,279.52 418.30,283.11 420.08,286.64 421.86,290.11 423.64,293.53 425.43,296.89 427.21,300.19 428.99,303.45 430.77,306.64 432.55,309.79 434.33,312.88 436.11,315.93 437.89,318.92 439.68,321.86 441.46,324.76 443.24,327.61 445.02,330.41 446.80,333.17 448.58,335.88 450.36,338.55 452.14,341.17 453.93,343.75 455.71,346.29 457.49,348.79 459.27,351.25 461.05,353.67 462.83,356.04 464.61,358.38 466.39,360.68 468.18,362.95 469.96,365.17 471.74,367.36 473.52,369.52 475.30,371.64 477.08,373.72 478.86,375.78 480.64,377.80 482.43,379.78 484.21,381.73 485.99,383.66 487.77,385.55 489.55,387.41 491.33,389.24 493.11,391.04 494.89,392.81 496.68,394.55 498.46,396.27 500.24,397.96 502.02,399.61 503.80,401.25 505.58,402.85 507.36,404.44 509.14,405.99 510.93,407.52 512.71,409.03 514.49,410.51 516.27,411.97 518.05,413.40 519.83,414.81 521.61,416.20 523.39,417.57 525.18,418.91 526.96,420.23 528.74,421.54 530.52,422.82 532.30,424.08 534.08,425.32 535.86,426.54 537.65,427.74 539.43,428.92 541.21,430.08 542.99,431.23 544.77,432.36 546.55,433.46 548.33,434.55 550.11,435.63 551.90,436.68 553.68,437.72 555.46,438.75 557.24,439.75 559.02,440.74 560.80,441.72 562.58,442.68 564.36,443.62 566.15,444.55 567.93,445.47 569.71,446.37 571.49,447.25 573.27,448.13 575.05,448.98 576.83,449.83 578.61,450.66 580.40,451.48 582.18,452.28 583.96,453.08 585.74,453.86 587.52,454.63 589.30,455.38 591.08,456.13 592.86,456.86 594.65,457.58 596.43,458.29 598.21,458.99 599.99,459.68 601.77,460.36 603.55,461.02 605.33,461.68 607.11,462.32 608.90,462.96 610.68,463.59 612.46,464.20 614.24,464.81 616.02,465.41 617.80,466.00 619.58,466.58 621.36,467.15 623.15,467.71 624.93,468.26 626.71,468.81 628.49,469.34 630.27,469.87 632.05,470.39 633.83,470.90 635.61,471.40 637.40,471.90 639.18,472.39 640.96,472.87 642.74,473.34 644.52,473.81 646.30,474.27 648.08,474.72 649.86,475.17 651.65,475.61 653.43,476.04 655.21,476.46 656.99,476.88 658.77,477.29 660.55,477.70 662.33,478.10 664.12,478.50 665.90,478.88 667.68,479.27 669.46,479.64 671.24,480.01 673.02,480.38 674.80,480.74 676.58,481.09 678.37,481.44 680.15,481.79 681.93,482.13 683.71,482.46 685.49,482.79 687.27,483.11 689.05,483.43 690.83,483.75 692.62,484.06 694.40,484.36 696.18,484.66 697.96,484.96 699.74,485.25 701.52,485.54 703.30,485.82 705.08,486.10 706.87,486.38 708.65,486.65 710.43,486.92 712.21,487.18 713.99,487.44 715.77,487.69 717.55,487.95 719.33,488.19 721.12,488.44 722.90,488.68 724.68,488.92 726.46,489.15 728.24,489.38 730.02,489.61 731.80,489.83 733.58,490.06 735.37,490.27 737.15,490.49 738.93,490.70 740.71,490.91 742.49,491.11 744.27,491.32 746.05,491.52 747.83,491.71 749.62,491.91 751.40,492.10 753.18,492.29 754.96,492.47 756.74,492.66 758.52,492.84 760.30,493.02 762.08,493.19 763.87,493.37 765.65,493.54 767.43,493.71 769.21,493.87 770.99,494.04 772.77,494.20 774.55,494.36 776.34,494.51 778.12,494.67 779.90,494.82 781.68,494.97 783.46,495.12 785.24,495.27 787.02,495.41 788.80,495.56 790.59,495.70 792.37,495.84 794.15,495.97 795.93,496.11 797.71,496.24 799.49,496.37 801.27,496.50 803.05,496.63 804.84,496.76 806.62,496.88 808.40,497.01 810.18,497.13 811.96,497.25 813.74,497.36 815.52,497.48 817.30,497.60 819.09,497.71 820.87,497.82 822.65,497.93 824.43,498.04 826.21,498.15 827.99,498.26 829.77,498.36 831.55,498.46 833.34,498.57 835.12,498.67 836.90,498.77 838.68,498.86 840.46,498.96 842.24,499.06 844.02,499.15 845.80,499.24 847.59,499.34 849.37,499.43 851.15,499.52 852.93,499.61 854.71,499.69 856.49,499.78 858.27,499.87 860.05,499.95 861.84,500.03 863.62,500.12 865.40,500.20 867.18,500.28 868.96,500.36 870.74,500.43 872.52,500.51 874.30,500.59 876.09,500.66 877.87,500.74 879.65,500.81 881.43,500.88 883.21,500.95 884.99,501.03 886.77,501.10 888.55,501.16 890.34,501.23" fill="none" stroke="#ff0000" stroke-width="3.9" stroke-linejoin="round"/>
<circle cx="349.3" cy="123.4" r="3.9" fill="none" stroke="#ff0000" stroke-width="1"/>
<circle cx="385.6" cy="142.4" r="3.9" fill="none" stroke="#ff0000" stroke-width="1"/>
<circle cx="433.5" cy="258" r="3.9" fill="none" stroke="#ff0000" stroke-width="1"/>
<circle cx="458.3" cy="315.9" r="3.9" fill="none" stroke="#ff0000" stroke-width="1"/>
<circle cx="474.9" cy="374.1" r="3.9" fill="none" stroke="#ff0000" stroke-width="1"/>
<circle cx="487.6" cy="431.5" r="3.9" fill="none" stroke="#ff0000" stroke-width="1"/>
<circle cx="508.8" cy="451" r="3.9" fill="none" stroke="#ff0000" stroke-width="1"/>
<circle cx="796.4" cy="470" r="3.9" fill="none" stroke="#ff0000" stroke-width="1"/>
<path d="M349.5 46.5 H953.5 V508.5 H349.5 Z" fill="none" stroke="#262626" stroke-width="1"/>
<path d="M349.5 508.5 V502.5 M349.5 46.5 V52.5 M385.5 508.5 V505.5 M385.5 46.5 V49.5 M407.5 508.5 V505.5 M407.5 46.5 V49.5 M422.5 508.5 V505.5 M422.5 46.5 V49.5 M433.5 508.5 V505.5 M433.5 46.5 V49.5 M443.5 508.5 V505.5 M443.5 46.5 V49.5 M451.5 508.5 V505.5 M451.5 46.5 V49.5 M458.5 508.5 V505.5 M458.5 46.5 V49.5 M464.5 508.5 V505.5 M464.5 46.5 V49.5 M470.5 508.5 V502.5 M470.5 46.5 V52.5 M506.5 508.5 V505.5 M506.5 46.5 V49.5 M527.5 508.5 V505.5 M527.5 46.5 V49.5 M543.5 508.5 V505.5 M543.5 46.5 V49.5 M554.5 508.5 V505.5 M554.5 46.5 V49.5 M564.5 508.5 V505.5 M564.5 46.5 V49.5 M572.5 508.5 V505.5 M572.5 46.5 V49.5 M579.5 508.5 V505.5 M579.5 46.5 V49.5 M585.5 508.5 V505.5 M585.5 46.5 V49.5 M591.5 508.5 V502.5 M591.5 46.5 V52.5 M627.5 508.5 V505.5 M627.5 46.5 V49.5 M648.5 508.5 V505.5 M648.5 46.5 V49.5 M663.5 508.5 V505.5 M663.5 46.5 V49.5 M675.5 508.5 V505.5 M675.5 46.5 V49.5 M685.5 508.5 V505.5 M685.5 46.5 V49.5 M693.5 508.5 V505.5 M693.5 46.5 V49.5 M700.5 508.5 V505.5 M700.5 46.5 V49.5 M706.5 508.5 V505.5 M706.5 46.5 V49.5 M711.5 508.5 V502.5 M711.5 46.5 V52.5 M748.5 508.5 V505.5 M748.5 46.5 V49.5 M769.5 508.5 V505.5 M769.5 46.5 V49.5 M784.5 508.5 V505.5 M784.5 46.5 V49.5 M796.5 508.5 V505.5 M796.5 46.5 V49.5 M805.5 508.5 V505.5 M805.5 46.5 V49.5 M813.5 508.5 V505.5 M813.5 46.5 V49.5 M820.5 508.5 V505.5 M820.5 46.5 V49.5 M827.5 508.5 V505.5 M827.5 46.5 V49.5 M832.5 508.5 V502.5 M832.5 46.5 V52.5 M869.5 508.5 V505.5 M869.5 46.5 V49.5 M890.5 508.5 V505.5 M890.5 46.5 V49.5 M905.5 508.5 V505.5 M905.5 46.5 V49.5 M917.5 508.5 V505.5 M917.5 46.5 V49.5 M926.5 508.5 V505.5 M926.5 46.5 V49.5 M934.5 508.5 V505.5 M934.5 46.5 V49.5 M941.5 508.5 V505.5 M941.5 46.5 V49.5 M947.5 508.5 V505.5 M947.5 46.5 V49.5 M953.5 508.5 V502.5 M953.5 46.5 V52.5 M349.5 508.5 H355.5 M953.5 508.5 H947.5 M349.5 431.5 H355.5 M953.5 431.5 H947.5 M349.5 354.5 H355.5 M953.5 354.5 H947.5 M349.5 277.5 H355.5 M953.5 277.5 H947.5 M349.5 200.5 H355.5 M953.5 200.5 H947.5 M349.5 123.5 H355.5 M953.5 123.5 H947.5 M349.5 46.5 H355.5 M953.5 46.5 H947.5" fill="none" stroke="#262626" stroke-width="1"/>
<circle cx="798.8" cy="63.5" r="3.9" fill="none" stroke="#ff0000" stroke-width="1"/>
<path d="M784.5 79.3 H814.3" stroke="#ff0000" stroke-width="3.8"/>
</svg>
<div class="t" style="left:-56.5px;top:501px;width:400px;text-align:right;font-size:13.33px;color:#262626;">0</div>
<div class="t" style="left:-56.5px;top:424px;width:400px;text-align:right;font-size:13.33px;color:#262626;">0.02</div>
<div class="t" style="left:-56.5px;top:347px;width:400px;text-align:right;font-size:13.33px;color:#262626;">0.04</div>
<div class="t" style="left:-56.5px;top:269px;width:400px;text-align:right;font-size:13.33px;color:#262626;">0.06</div>
<div class="t" style="left:-56.5px;top:192px;width:400px;text-align:right;font-size:13.33px;color:#262626;">0.08</div>
<div class="t" style="left:-56.5px;top:114px;width:400px;text-align:right;font-size:13.33px;color:#262626;">0.1</div>
<div class="t" style="left:-56.5px;top:37px;width:400px;text-align:right;font-size:13.33px;color:#262626;">0.12</div>
<div class="t" style="left:308.5px;top:518px;width:80px;text-align:center;font-size:13px;color:#262626">10<span style="font-size:10px;position:relative;top:-6px">3</span></div>
<div class="t" style="left:429.3px;top:518px;width:80px;text-align:center;font-size:13px;color:#262626">10<span style="font-size:10px;position:relative;top:-6px">4</span></div>
<div class="t" style="left:550.1px;top:518px;width:80px;text-align:center;font-size:13px;color:#262626">10<span style="font-size:10px;position:relative;top:-6px">5</span></div>
<div class="t" style="left:670.9px;top:518px;width:80px;text-align:center;font-size:13px;color:#262626">10<span style="font-size:10px;position:relative;top:-6px">6</span></div>
<div class="t" style="left:791.7px;top:518px;width:80px;text-align:center;font-size:13px;color:#262626">10<span style="font-size:10px;position:relative;top:-6px">7</span></div>
<div class="t" style="left:912.5px;top:518px;width:80px;text-align:center;font-size:13px;color:#262626">10<span style="font-size:10px;position:relative;top:-6px">8</span></div>
<div class="t" style="left:451.5px;top:27px;width:400px;text-align:center;font-size:12px;font-weight:bold;color:#000;">Strain Amplitude vs. N</div>
<div class="t" style="left:451.7px;top:536px;width:400px;text-align:center;font-size:12px;font-weight:bold;color:#262626;">Cycles, N</div>
<div class="t" style="left:107px;top:267px;width:400px;text-align:center;font-size:12px;font-weight:bold;color:#262626;transform:rotate(-90deg);transform-origin:200px 10px">Strain Amplitude</div>
<div class="t" style="left:820.0px;top:55px;width:400px;text-align:left;font-size:11px;color:#000;">Data -STRAIN LIFE</div>
<div class="t" style="left:817.5px;top:70px;width:400px;text-align:left;font-size:11px;color:#000;">NtotV<span class="one">1</span>-STRAIN LIFE</div>
</body></html>
